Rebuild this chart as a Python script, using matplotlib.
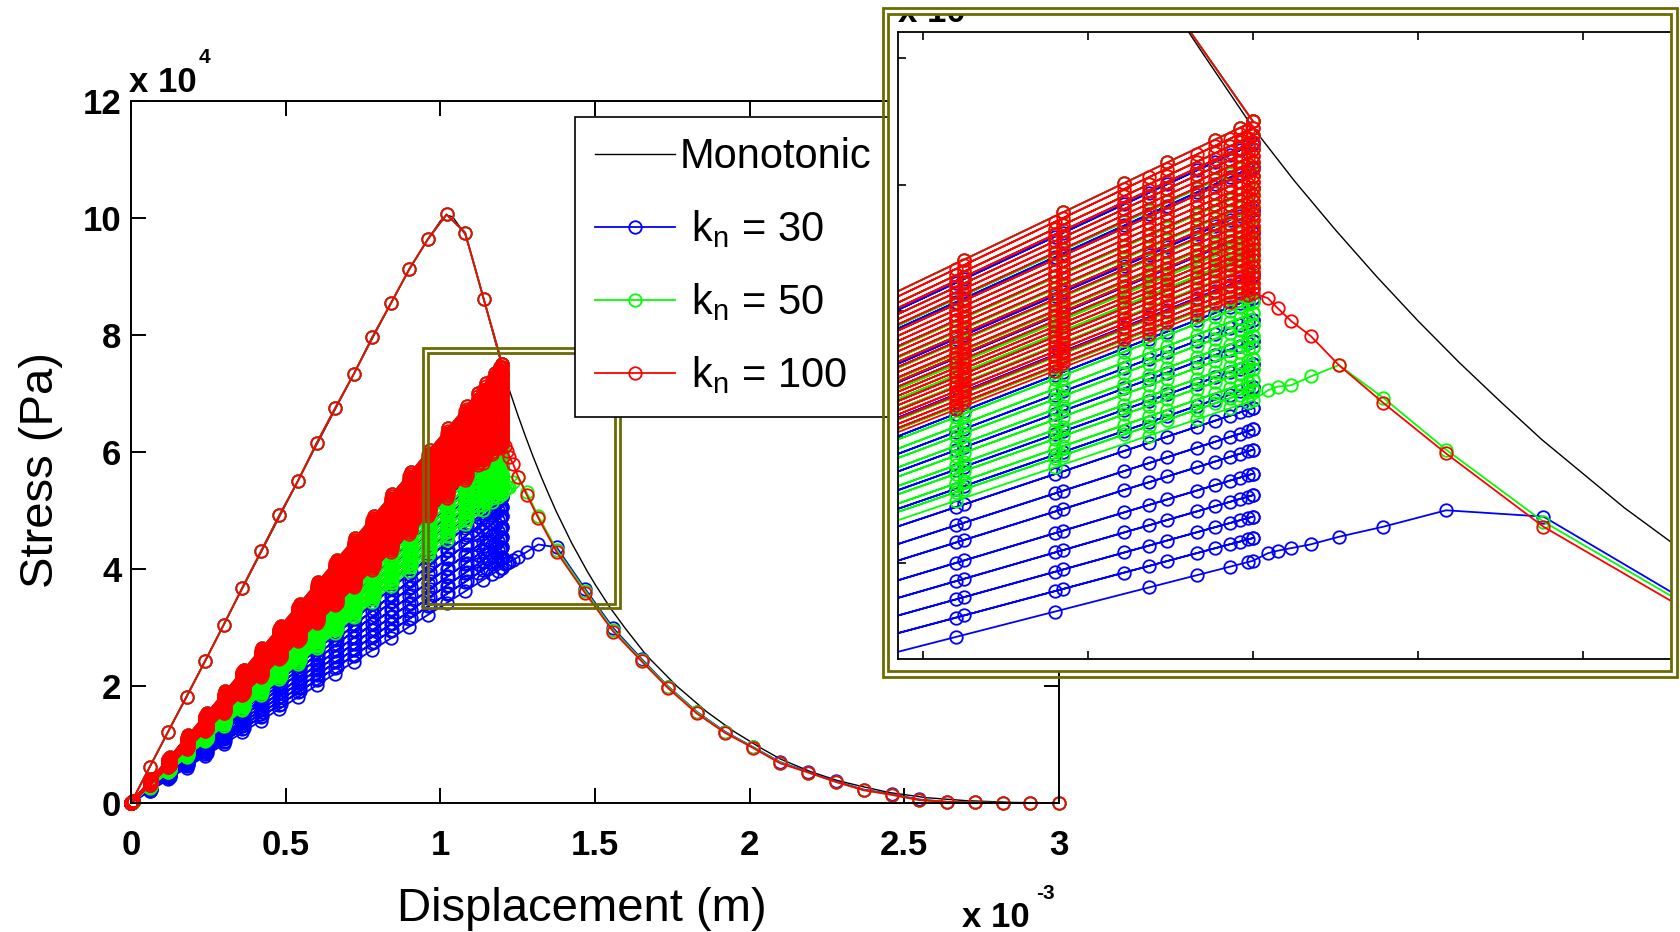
import numpy as np
import matplotlib
matplotlib.use('Agg')
import matplotlib.pyplot as plt
from matplotlib.patches import Rectangle
from matplotlib.lines import Line2D

plt.rcParams['font.family'] = ['Liberation Sans', 'DejaVu Sans']
plt.rcParams['mathtext.default'] = 'regular'

W, H = 1680, 932

# deslocamento em 1e-3 m, tensao em 1e4 Pa
mono_x = [0.0, 0.3, 0.6, 0.84, 0.9, 0.96, 1.0, 1.02, 1.04, 1.08, 1.11, 1.14, 1.17, 1.2,
          1.225, 1.25, 1.275, 1.3, 1.325, 1.35, 1.375, 1.4, 1.425, 1.45, 1.475, 1.5,
          1.55, 1.6, 1.667, 1.764, 1.861, 1.95, 2.033, 2.1, 2.195, 2.28, 2.357, 2.45,
          2.573, 2.7, 2.85, 3.0]
mono_y = [0.0, 3.05, 6.12, 8.54, 9.12, 9.64, 9.95, 10.05, 10.02, 9.72, 9.20, 8.62, 8.03, 7.45,
          7.03, 6.64, 6.27, 5.92, 5.59, 5.28, 4.98, 4.71, 4.44, 4.20, 3.96, 3.74,
          3.33, 2.97, 2.52, 2.00, 1.56, 1.22, 0.95, 0.75, 0.54, 0.39, 0.29, 0.18,
          0.09, 0.04, 0.01, 0.0]

# primeiro carregamento (igual para os tres casos)
load_x = [0.0, 0.06, 0.12, 0.18, 0.24, 0.30, 0.36, 0.42, 0.48, 0.54, 0.60, 0.66, 0.72,
          0.78, 0.84, 0.90, 0.96, 1.02, 1.08, 1.14, 1.20]
load_y = [0.0, 0.61, 1.22, 1.82, 2.43, 3.05, 3.68, 4.30, 4.92, 5.51, 6.15, 6.75, 7.33,
          7.96, 8.54, 9.13, 9.64, 10.06, 9.75, 8.62, 7.50]

# pontos marcados nos ciclos de descarga / recarga
unload_x = [1.2, 1.192, 1.177, 1.148, 1.122, 1.085, 1.025, 0.965, 0.905, 0.845, 0.785,
            0.725, 0.665, 0.605, 0.545, 0.485, 0.425, 0.365, 0.305, 0.245, 0.185, 0.125,
            0.065, 0.005, 0.0]
reload_x = [0.0, 0.06, 0.12, 0.18, 0.24, 0.30, 0.36, 0.42, 0.48, 0.54, 0.60, 0.66, 0.72,
            0.78, 0.84, 0.90, 0.96, 1.02, 1.08, 1.137, 1.166, 1.186, 1.197, 1.2]

# tensao de pico em cada ciclo (x = 1.2e-3 m)
peaks_kn30 = [7.50, 7.32, 7.14, 6.97, 6.80, 6.62, 6.45, 6.28, 6.10, 5.93, 5.76, 5.58,
              5.40, 5.23, 5.06, 4.90, 4.71, 4.54, 4.37, 4.20, 4.02]
peaks_kn50 = [7.50, 7.39, 7.28, 7.17, 7.07, 6.96, 6.86, 6.76, 6.66, 6.56, 6.46, 6.36,
              6.26, 6.17, 6.07, 5.98, 5.89, 5.80, 5.71, 5.62, 5.54, 5.45, 5.37, 5.29]
peaks_kn100 = [7.50, 7.45, 7.39, 7.34, 7.28, 7.23, 7.18, 7.12, 7.07, 7.02, 6.97, 6.92,
               6.87, 6.82, 6.77, 6.72, 6.67, 6.63, 6.58, 6.53, 6.49, 6.44, 6.40, 6.35,
               6.31, 6.27, 6.22, 6.18, 6.14]

# carregamento final depois dos ciclos
tail_x = [1.209, 1.215, 1.223, 1.235, 1.252, 1.279, 1.317, 1.376, 1.468, 1.559, 1.651,
          1.737, 1.829, 1.920, 2.010, 2.098, 2.190, 2.279, 2.368, 2.459, 2.549, 2.637,
          2.729, 2.818, 2.907, 3.0]
tail_kn30 = [4.08, 4.10, 4.12, 4.15, 4.21, 4.29, 4.42, 4.37, 3.66, 2.99, 2.46, 1.99, 1.56,
             1.22, 0.96, 0.70, 0.53, 0.37, 0.23, 0.15, 0.06, 0.02, 0.01, 0.0, 0.0, 0.0]
tail_kn50 = [5.37, 5.40, 5.41, 5.48, 5.57, 5.31, 4.90, 4.33, 3.63, 2.96, 2.44, 1.98, 1.55,
             1.21, 0.955, 0.69, 0.52, 0.36, 0.22, 0.14, 0.05, 0.02, 0.01, 0.0, 0.0, 0.0]
tail_kn100 = [6.10, 6.02, 5.92, 5.80, 5.57, 5.27, 4.87, 4.29, 3.59, 2.93, 2.42, 1.96, 1.53,
              1.20, 0.945, 0.68, 0.52, 0.36, 0.22, 0.14, 0.05, 0.02, 0.01, 0.0, 0.0, 0.0]

labels = ['Monotonic', ' k$_n$ = 30', ' k$_n$ = 50', ' k$_n$ = 100']
colors = ['k', '#0000ff', '#00ff00', '#ff0000']
olive = '#6d6b00'


def cycle_path(peaks, tail_y):
    xs = [np.array(load_x)]
    ys = [np.array(load_y)]
    for prev, nxt in zip(peaks[:-1], peaks[1:]):
        ux = np.array(unload_x)
        rx = np.array(reload_x)
        xs.append(ux)
        ys.append(ux / ux[0] * prev)
        xs.append(rx)
        ys.append(rx / rx[-1] * nxt)
    xs.append(np.array(tail_x))
    ys.append(np.array(tail_y))
    return np.concatenate(xs), np.concatenate(ys)


def draw(ax, clip):
    ax.plot(mono_x, mono_y, color=colors[0], lw=1.0, clip_on=clip)
    for peaks, tail, c in [(peaks_kn30, tail_kn30, colors[1]),
                           (peaks_kn50, tail_kn50, colors[2]),
                           (peaks_kn100, tail_kn100, colors[3])]:
        x, y = cycle_path(peaks, tail)
        ax.plot(x, y, '-o', color=c, lw=1.3, ms=9, mfc='none', mew=1.3, clip_on=clip)


fig = plt.figure(figsize=(W / 100, H / 100), dpi=100)

# eixo principal
ax = fig.add_axes([131 / W, 1 - 803 / H, 928 / W, 702 / H])
draw(ax, False)
ax.set_xlim(0, 3)
ax.set_ylim(0, 12)
ax.set_xticks([0, 0.5, 1, 1.5, 2, 2.5, 3])
ax.set_xticklabels(['0', '0.5', '1', '1.5', '2', '2.5', '3'], fontsize=25, fontweight='bold')
ax.set_yticks([0, 2, 4, 6, 8, 10, 12])
ax.set_yticklabels(['0', '2', '4', '6', '8', '10', '12'], fontsize=25, fontweight='bold')
ax.tick_params(direction='in', length=11, width=1.4, top=True, right=True)
ax.tick_params(axis='x', pad=19)
ax.tick_params(axis='y', pad=7)
for s in ax.spines.values():
    s.set_linewidth(1.4)

for x0, y0, x1, y1 in [(0.945, 3.33, 1.581, 7.77), (0.961, 3.40, 1.565, 7.69)]:
    ax.add_patch(Rectangle((x0, y0), x1 - x0, y1 - y0, fill=False, ec=olive, lw=2.0,
                           zorder=5, clip_on=False))

handles = [Line2D([], [], color=colors[0], lw=1.0)]
for c in colors[1:]:
    handles.append(Line2D([], [], color=c, lw=1.3, marker='o', ms=9, mfc='none', mew=1.3))
leg = ax.legend(handles, labels, loc='upper left', bbox_to_anchor=(575 / W, 1 - 116.7 / H),
                bbox_transform=fig.transFigure, fontsize=30, fancybox=False, edgecolor='k',
                framealpha=1, borderpad=0.49, labelspacing=0.75, handlelength=1.92,
                handletextpad=0.1, borderaxespad=0)
leg.get_frame().set_linewidth(1.2)

fig.text(129 / W, 1 - 92 / H, 'x 10', fontsize=25, fontweight='bold', va='baseline')
fig.text(199 / W, 1 - 63 / H, '4', fontsize=15, fontweight='bold', va='baseline')
fig.text(962 / W, 1 - 927 / H, 'x 10', fontsize=25, fontweight='bold', va='baseline')
fig.text(1036 / W, 1 - 899 / H, '-3', fontsize=15, fontweight='bold', va='baseline')
fig.text(582 / W, 1 - 921 / H, 'Displacement (m)', fontsize=34, ha='center', va='baseline')
fig.text(41 / W, 1 - 470 / H, 'Stress (Pa)', fontsize=34, rotation=90, ha='center', va='center')

# zoom (inset)
ax_bg = fig.add_axes([888 / W, 1 - 671 / H, (1671 - 888) / W, (671 - 14) / H])
ax_bg.set_xticks([])
ax_bg.set_yticks([])
for s in ax_bg.spines.values():
    s.set_visible(False)

ax_in = fig.add_axes([898.3 / W, 1 - 659 / H, (1671 - 898.3) / W, (659 - 31.7) / H])
draw(ax_in, True)
ax_in.set_xlim(0.985, 1.4533)
ax_in.set_ylim(3.242, 8.211)
ax_in.set_xticks([1.0, 1.1, 1.2, 1.3, 1.4])
ax_in.set_yticks([4, 5, 6, 7, 8])
ax_in.set_xticklabels([])
ax_in.set_yticklabels([])
ax_in.tick_params(direction='in', length=6, width=1.2, top=True, right=False)
ax_in.spines['right'].set_visible(False)
for s in ax_in.spines.values():
    s.set_linewidth(1.3)

t = fig.text(898 / W, 1 - 21.7 / H, 'x 10', fontsize=25, fontweight='bold', va='baseline')
t.set_clip_box(ax_bg.bbox)

for x0, y0, x1, y1 in [(883, 8.3, 1677, 677), (888, 14, 1671, 671)]:
    fig.add_artist(Rectangle((x0 / W, 1 - y1 / H), (x1 - x0) / W, (y1 - y0) / H,
                             transform=fig.transFigure, fill=False, ec=olive, lw=2.0, zorder=10))

fig.savefig('out.png', dpi=100)
plt.close()
